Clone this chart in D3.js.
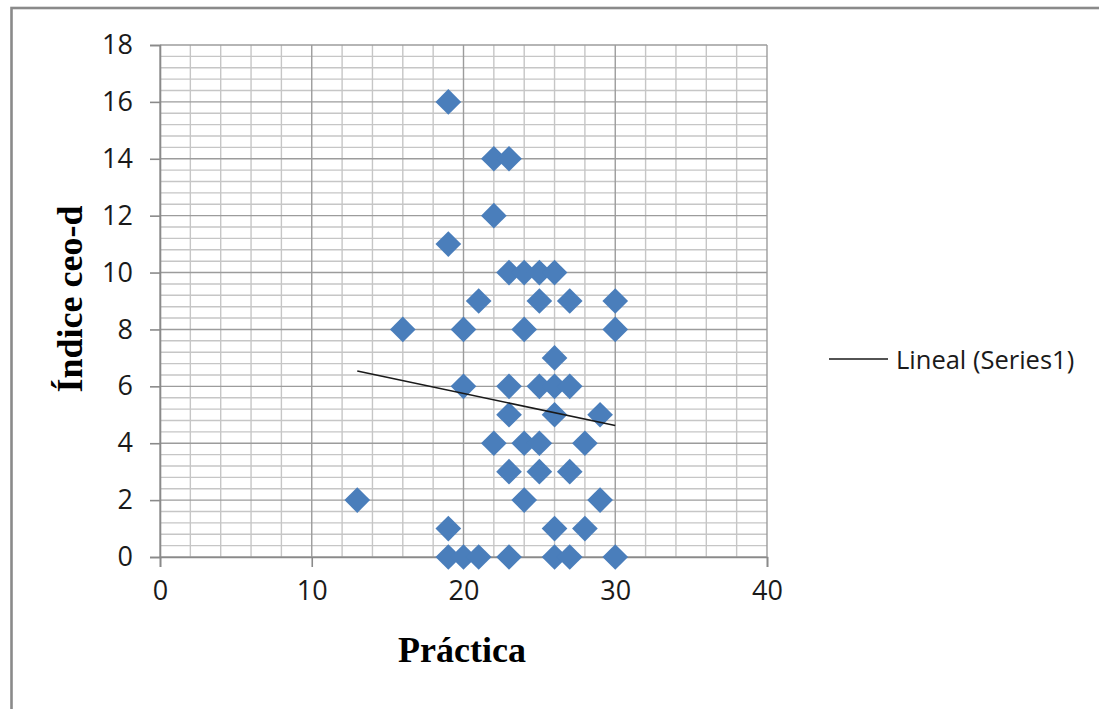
<!DOCTYPE html>
<html>
<head>
<meta charset="utf-8">
<script src="https://cdn.jsdelivr.net/npm/d3@7"></script>
<style>
  html, body { margin: 0; padding: 0; background: #fff; }
  svg { display: block; }
</style>
</head>
<body>
<script>
// ---- data ----
const practica = [19,22,23,22,19,23,24,25,26,21,25,27,30,16,20,24,30,26,20,23,25,26,27,23,26,29,22,24,25,28,23,25,27,13,24,29,19,26,28,19,20,21,23,26,27,30];
const indice   = [16,14,14,12,11,10,10,10,10,9,9,9,9,8,8,8,8,7,6,6,6,6,6,5,5,5,4,4,4,4,3,3,3,2,2,2,1,1,1,0,0,0,0,0,0,0];
const trendX = [13, 30];
const trendY = [6.54, 4.62];
const xTicks = [0, 10, 20, 30, 40];
const yTicks = [0, 2, 4, 6, 8, 10, 12, 14, 16, 18];
const xTitle = "Práctica";
const yTitle = "Índice ceo-d";
const legendLabel = "Lineal (Series1)";

const W = 1099, H = 709;
const svg = d3.select("body").append("svg").attr("width", W).attr("height", H);

// outer frame (right/bottom edges lie outside the window)
svg.append("rect").attr("x", 11.5).attr("y", 8).attr("width", W + 20).attr("height", H + 20)
  .attr("fill", "#fff").attr("stroke", "#8a8a8a").attr("stroke-width", 2.6);

const x = d3.scaleLinear().domain([0, 40]).range([160, 767]);
const y = d3.scaleLinear().domain([0, 18]).range([557, 45]);

const g = svg.append("g");
const minorColor = "#c6c6c6", majorColor = "#9c9c9c";

// minor gridlines
const xMinor = d3.range(0, 40.001, 2).filter(v => v % 10 !== 0);
const yMinor = d3.range(0, 90).map(i => i * 0.4).filter(v => v <= 18.001 && Math.abs(v / 2 - Math.round(v / 2)) > 1e-6);
g.selectAll(".vmin").data(xMinor).enter().append("line")
  .attr("x1", d => x(d)).attr("x2", d => x(d)).attr("y1", y(18)).attr("y2", y(0))
  .attr("stroke", minorColor).attr("stroke-width", 1.4);
g.selectAll(".hmin").data(yMinor).enter().append("line")
  .attr("x1", x(0)).attr("x2", x(40)).attr("y1", d => y(d)).attr("y2", d => y(d))
  .attr("stroke", minorColor).attr("stroke-width", 1.4);
// major gridlines
g.selectAll(".vmaj").data(xTicks).enter().append("line")
  .attr("x1", d => x(d)).attr("x2", d => x(d)).attr("y1", y(18)).attr("y2", y(0))
  .attr("stroke", majorColor).attr("stroke-width", 1.4);
g.selectAll(".hmaj").data(yTicks).enter().append("line")
  .attr("x1", x(0)).attr("x2", x(40)).attr("y1", d => y(d)).attr("y2", d => y(d))
  .attr("stroke", majorColor).attr("stroke-width", 1.4);

// axes
const tickFont = "'Open Sans', sans-serif";
const yAxis = svg.append("g").attr("transform", `translate(${x(0)},0)`)
  .call(d3.axisLeft(y).tickValues(yTicks).tickSize(10).tickPadding(17).tickFormat(d3.format("d")));
const xAxis = svg.append("g").attr("transform", `translate(0,${y(0)})`)
  .call(d3.axisBottom(x).tickValues(xTicks).tickSize(10).tickPadding(14).tickFormat(d3.format("d")));
[xAxis, yAxis].forEach(a => {
  a.select(".domain").attr("stroke", "#8a8a8a").attr("stroke-width", 1.6);
  a.selectAll(".tick line").attr("stroke", "#8a8a8a").attr("stroke-width", 1.6);
  a.selectAll(".tick text").attr("fill", "#1a1a1a").style("font-family", tickFont).style("font-size", "27px");
});

// diamonds
const diamond = d3.symbol().type(d3.symbolSquare).size(330);
svg.append("g").selectAll("path").data(practica.map((v, i) => [v, indice[i]])).enter().append("path")
  .attr("d", diamond)
  .attr("transform", d => `translate(${x(d[0])},${y(d[1])}) rotate(45)`)
  .attr("fill", "#4a7ebb");

// trendline
svg.append("line")
  .attr("x1", x(trendX[0])).attr("y1", y(trendY[0]))
  .attr("x2", x(trendX[1])).attr("y2", y(trendY[1]))
  .attr("stroke", "#1a1a1a").attr("stroke-width", 1.6);

// titles
svg.append("text").attr("x", 462).attr("y", 662).attr("text-anchor", "middle")
  .style("font-family", "'Liberation Serif', 'Times New Roman', serif").style("font-weight", "bold").style("font-size", "36px")
  .text(xTitle);
svg.append("text").attr("transform", "translate(82,299) rotate(-90)").attr("text-anchor", "middle")
  .style("font-family", "'Liberation Serif', 'Times New Roman', serif").style("font-weight", "bold").style("font-size", "36px")
  .text(yTitle);

// legend
svg.append("line").attr("x1", 829).attr("x2", 888).attr("y1", 359).attr("y2", 359)
  .attr("stroke", "#1a1a1a").attr("stroke-width", 1.6);
svg.append("text").attr("x", 896).attr("y", 369)
  .style("font-family", tickFont).style("font-size", "25.5px").attr("fill", "#1a1a1a")
  .text(legendLabel);
</script>
</body>
</html>
